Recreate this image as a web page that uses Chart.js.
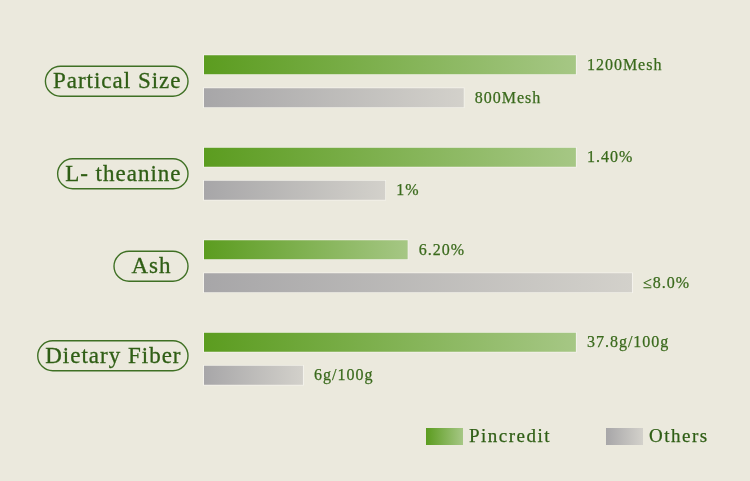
<!DOCTYPE html>
<html>
<head>
<meta charset="utf-8">
<script src="https://cdn.jsdelivr.net/npm/chart.js@4.4.1/dist/chart.umd.min.js"></script>
<style>
  html, body { margin: 0; padding: 0; background: #ebe9dd; }
  #wrap { width: 750px; height: 481px; }
</style>
</head>
<body>
<div id="wrap"><canvas id="chart"></canvas></div>
<script>
const categories = ["Partical Size", "L- theanine", "Ash", "Dietary Fiber"];
const seriesNames = ["Pincredit", "Others"];
// relative bar lengths (Pincredit full bar = 100)
const pincreditLen = [100, 100, 55, 100];
const othersLen = [70, 49, 115, 27];
const pincreditText = ["1200Mesh", "1.40%", "6.20%", "37.8g/100g"];
const othersText = ["800Mesh", "1%", "\u22648.0%", "6g/100g"];

const SERIF = '"Liberation Serif", "DejaVu Serif", serif';
const TEXT_GREEN = "#3a6a1c";

function barGradient(ctx, from, to) {
  const chart = ctx.chart;
  const x = chart.scales.x;
  if (!chart.chartArea || !x) return from;
  const x0 = x.getPixelForValue(0);
  const x1 = x.getPixelForValue(ctx.raw);
  const g = chart.ctx.createLinearGradient(x0, 0, x1, 0);
  g.addColorStop(0, from);
  g.addColorStop(1, to);
  return g;
}

const decor = {
  id: "decor",
  afterDatasetsDraw(chart) {
    const c = chart.ctx;
    const y = chart.scales.y;
    c.save();
    c.letterSpacing = "1px";
    c.font = "16px " + SERIF;
    c.fillStyle = TEXT_GREEN;
    c.strokeStyle = TEXT_GREEN;
    c.lineWidth = 0.25;
    c.textBaseline = "middle";
    [pincreditText, othersText].forEach((texts, di) => {
      const meta = chart.getDatasetMeta(di);
      meta.data.forEach((bar, i) => {
        c.fillText(texts[i], bar.x + 10, bar.y + 1);
        c.strokeText(texts[i], bar.x + 10, bar.y + 1);
      });
    });

    // category pills
    c.font = "23px " + SERIF;
    c.letterSpacing = "1px";
    categories.forEach((name, i) => {
      const cy = y.getPixelForValue(i) - (i === 3 ? 3 : 0);
      const tw = c.measureText(name).width;
      const w = Math.max(tw + 14, 74);
      const h = 30;
      const right = 188;
      const left = right - w;
      c.beginPath();
      c.roundRect(left, cy - h / 2, w, h, h / 2);
      c.lineWidth = 1.4;
      c.strokeStyle = "#3f7024";
      c.stroke();
      c.textAlign = "center";
      c.fillStyle = "#2f5e15";
      c.strokeStyle = "#2f5e15";
      c.lineWidth = 0.3;
      c.fillText(name, left + w / 2 + 0.5, cy + 1);
      c.strokeText(name, left + w / 2 + 0.5, cy + 1);
    });

    // legend
    const items = [
      { label: seriesNames[0], x: 426, from: "#5b9c1f", to: "#a6c785" },
      { label: seriesNames[1], x: 606, from: "#a7a6a8", to: "#d3d1cb" }
    ];
    c.font = "19px " + SERIF;
    c.letterSpacing = "1.5px";
    c.textAlign = "left";
    items.forEach(it => {
      const g = c.createLinearGradient(it.x, 0, it.x + 37, 0);
      g.addColorStop(0, it.from);
      g.addColorStop(1, it.to);
      c.fillStyle = g;
      c.fillRect(it.x, 428, 37, 17);
      c.fillStyle = "#2f5e15";
      c.strokeStyle = "#2f5e15";
      c.lineWidth = 0.25;
      c.fillText(it.label, it.x + 43, 437.5);
      c.strokeText(it.label, it.x + 43, 437.5);
    });
    c.restore();
  }
};

new Chart(document.getElementById("chart"), {
  type: "bar",
  data: {
    labels: categories,
    datasets: [
      {
        label: seriesNames[0],
        data: pincreditLen,
        backgroundColor: ctx => barGradient(ctx, "#5b9c1f", "#a6c785"),
        borderColor: "rgba(255,255,255,0.45)",
        borderWidth: 1,
        borderSkipped: false
      },
      {
        label: seriesNames[1],
        data: othersLen,
        backgroundColor: ctx => barGradient(ctx, "#a7a6a8", "#d3d1cb"),
        borderColor: "rgba(255,255,255,0.45)",
        borderWidth: 1,
        borderSkipped: false
      }
    ]
  },
  options: {
    indexAxis: "y",
    responsive: true,
    maintainAspectRatio: false,
    animation: false,
    categoryPercentage: 0.715,
    barPercentage: 0.64,
    layout: { padding: { left: 203, right: 0, top: 35, bottom: 76 } },
    plugins: { legend: { display: false }, tooltip: { enabled: false } },
    scales: {
      x: { display: false, min: 0, max: 146.3 },
      y: { display: false }
    }
  },
  plugins: [decor]
});
</script>
</body>
</html>
